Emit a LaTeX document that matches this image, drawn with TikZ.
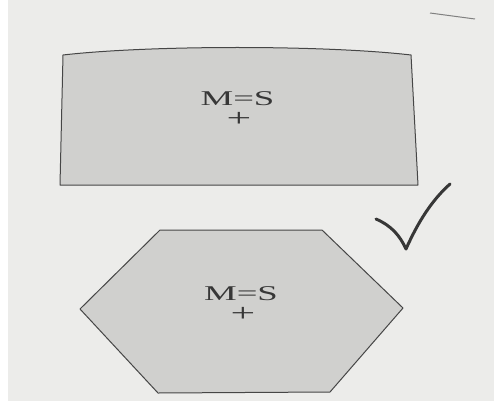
\documentclass[tikz,border=0pt]{standalone}
\usepackage{fontspec}
\setmainfont{Liberation Serif}
\newfontfamily\widefont[FakeStretch=1.75]{Liberation Serif}
\usetikzlibrary{positioning}
\definecolor{pagegray}{RGB}{236,236,234}
\definecolor{tilegray}{RGB}{208,208,206}
\definecolor{edgegray}{RGB}{70,70,70}
\definecolor{inkgray}{RGB}{55,55,55}

\begin{document}
\begin{tikzpicture}[x=1pt,y=-1pt,
    tile/.style={fill=tilegray,draw=edgegray,line width=1pt,line join=round},
    eqtext/.style={font=\widefont\fontsize{21}{23}\selectfont,text=inkgray,inner sep=0pt},
    plustext/.style={font=\widefont\fontsize{25}{27}\selectfont,text=inkgray,inner sep=0pt}]
    % Page
    \fill[pagegray] (0,0) rectangle (494,401);
    \fill[white] (0,0) rectangle (8,401);
    \useasboundingbox (0,0) rectangle (494,401);
    \draw[gray,line width=1pt] (430,13) -- (475,19);

    % Rectangle (curved top from the photo)
    \draw[tile] (63,55) .. controls (150,45) and (325,45) .. (411,55)
        -- (418,185) -- (60,185) -- cycle;
    \node[eqtext,anchor=base] (eqA) at (237.5,105) {M=S};
    \node[plustext,below=7pt of eqA.base,xshift=1.5pt] (plusA) {+};

    % Hexagon
    \draw[tile] (160,230) -- (322,230) -- (403,308) -- (330,392)
        -- (158,393) -- (80,309) -- cycle;
    \node[eqtext,anchor=base] (eqB) at (241,300) {M=S};
    \node[plustext,below=7pt of eqB.base,xshift=2pt] (plusB) {+};

    % Check mark
    \draw[inkgray,line width=3pt,line cap=round,line join=round]
        (376,219) .. controls (392,226) and (400,236) .. (406,249)
        .. controls (418,222) and (432,200) .. (450,184);
\end{tikzpicture}
\end{document}
